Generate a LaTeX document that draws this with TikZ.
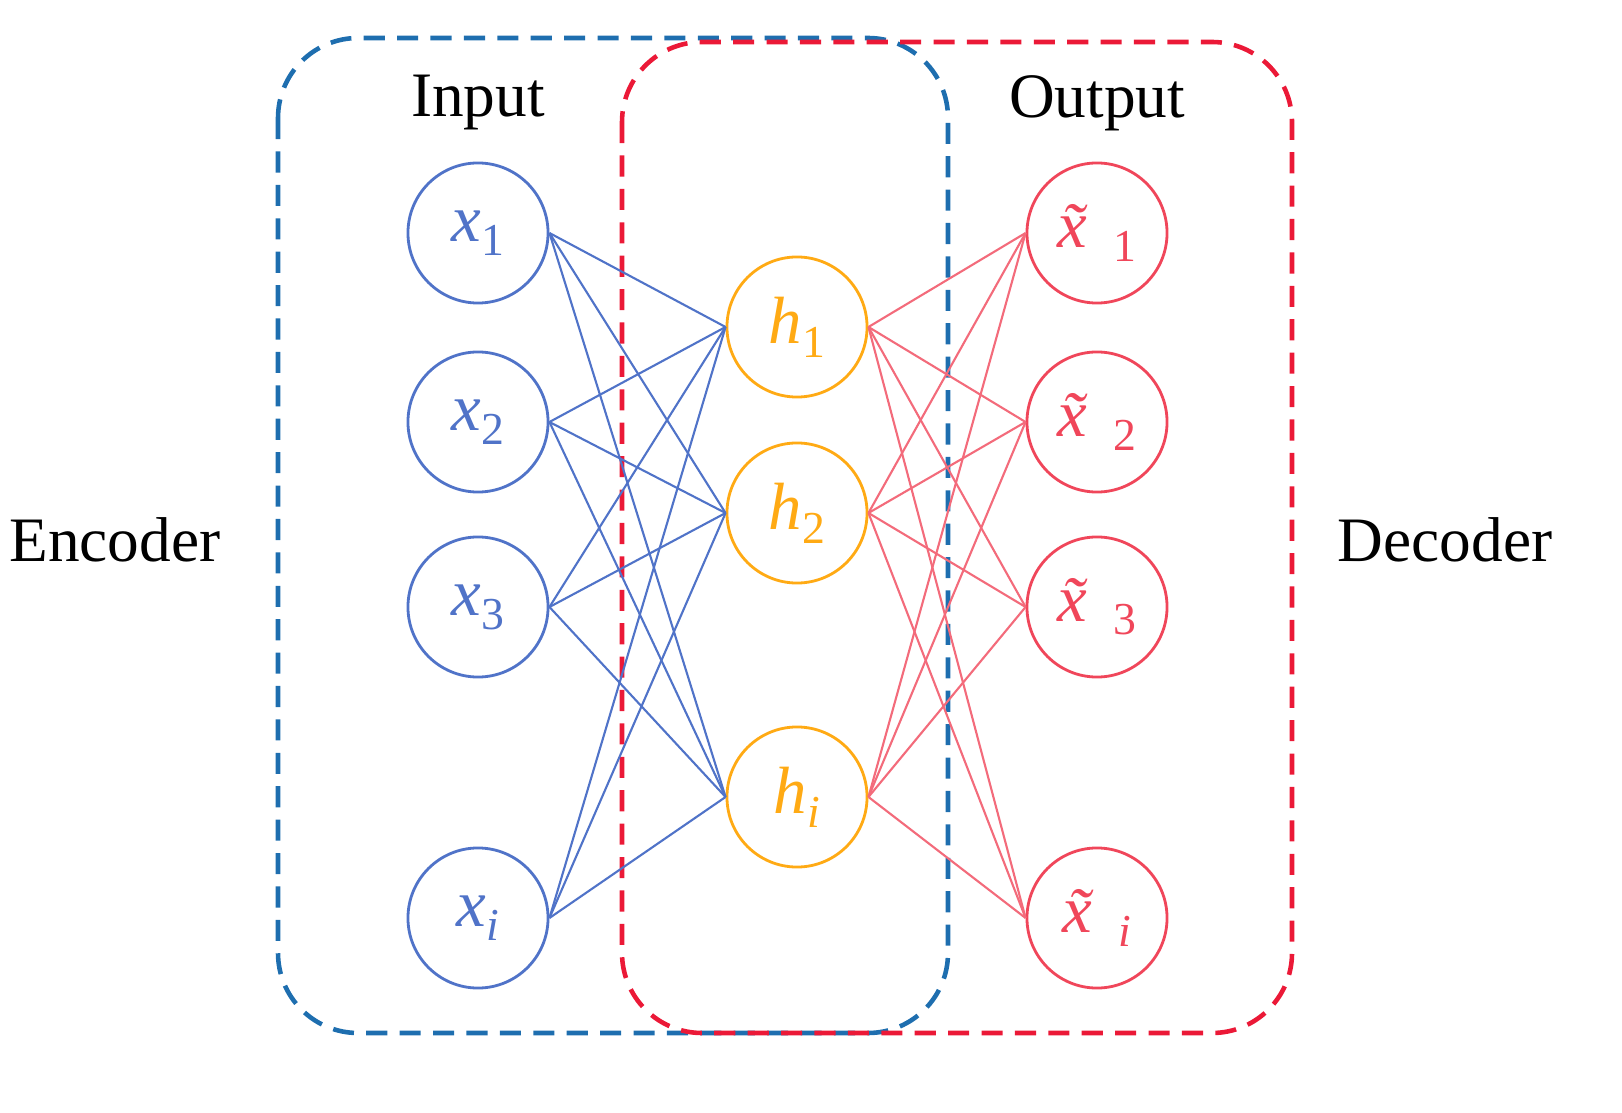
\documentclass[tikz,border=0pt]{standalone}
\usepackage{fontspec}
\setmainfont{Liberation Serif}
\usetikzlibrary{positioning}
\definecolor{inblue}{RGB}{80,115,200}
\definecolor{hidorange}{RGB}{255,170,20}
\definecolor{outred}{RGB}{240,70,90}
\definecolor{encblue}{RGB}{30,110,175}
\definecolor{decred}{RGB}{235,25,55}
\newcommand{\unitvar}[2]{\textit{#1}\raisebox{-0.45ex}{\fontsize{13}{13}\selectfont #2}}
\tikzset{
  neuron/.style={circle, draw, line width=0.8pt, minimum size=1.4cm, inner sep=0pt, text=black, font=\fontsize{19}{22}\selectfont},
  lbl/.style={font=\fontsize{18}{21}\selectfont},
  box/.style={line width=1.3pt, rounded corners=0.8cm, dash pattern=on 6pt off 3.5pt}
}
\begin{document}
\begin{tikzpicture}[x=0.01cm,y=-0.01cm]
    \useasboundingbox (0,0) rectangle (1622,1113);
    % boxes
    \draw[box, encblue] (278,38) rectangle (948,1033);
    \draw[box, decred] (622,42) rectangle (1292,1033);
    % labels
    \node[lbl] (input) at (478,103) {Input};
    \node[lbl] (output) at (1097,103) {Output};
    \node[lbl] (enc) at (115,540) {Encoder};
    \node[lbl] (dec) at (1445,540) {Decoder};
    % neurons
    \node[neuron, inblue] (x1) at (478,233) {\unitvar{x}{1}};
    \node[neuron, inblue] (x2) at (478,422) {\unitvar{x}{2}};
    \node[neuron, inblue] (x3) at (478,607) {\unitvar{x}{3}};
    \node[neuron, inblue] (x4) at (478,918) {\unitvar{x}{\itshape i}};
    \node[neuron, hidorange] (h1) at (797,327) {\unitvar{h}{1}};
    \node[neuron, hidorange] (h2) at (797,513) {\unitvar{h}{2}};
    \node[neuron, hidorange] (h3) at (797,797) {\unitvar{h}{\itshape i}};
    \node[neuron, outred] (y1) at (1097,233) {\unitvar{\~{x}}{1}};
    \node[neuron, outred] (y2) at (1097,422) {\unitvar{\~{x}}{2}};
    \node[neuron, outred] (y3) at (1097,607) {\unitvar{\~{x}}{3}};
    \node[neuron, outred] (y4) at (1097,918) {\unitvar{\~{x}}{\itshape i}};
    % connections
    \foreach \i in {1,...,4}
        \foreach \j in {1,2,3} {
            \draw[inblue, line width=0.6pt] (x\i.east) -- (h\j.west);
            \draw[outred!80, line width=0.6pt] (h\j.east) -- (y\i.west);
        }
\end{tikzpicture}
\end{document}
